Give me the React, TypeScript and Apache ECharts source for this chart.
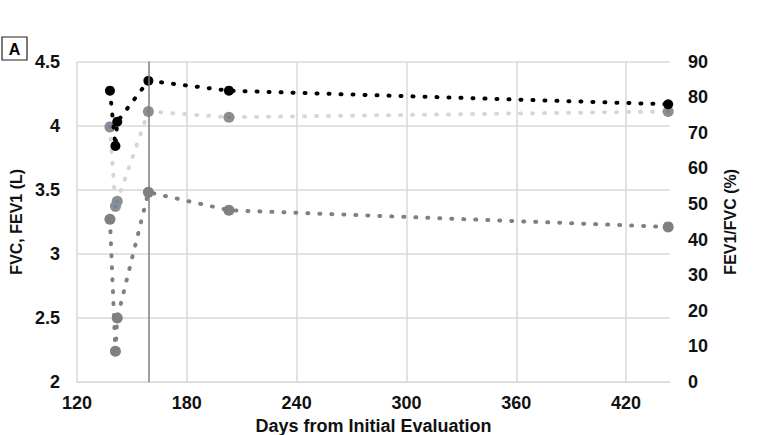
import React, { useEffect, useRef } from "react";
import * as echarts from "echarts";

const days = [138, 141, 142, 159, 203, 443];
const fvc = [3.99, 3.37, 3.41, 4.11, 4.065, 4.11];
const fev1 = [3.27, 2.24, 2.5, 3.48, 3.34, 3.21];
const ratio = [81.8, 66.3, 73.1, 84.6, 81.8, 78.0];
const markerDay = 159;

const FONT = "'Liberation Sans', Arial, sans-serif";

export default function App() {
  const ref = useRef<HTMLDivElement>(null);
  useEffect(() => {
    if (!ref.current) return;
    const chart = echarts.init(ref.current, null, { renderer: "svg" });
    const pair = (ys: number[]) => days.map((d, i) => [d, ys[i]]);
    const dotted = (color: string) => ({
      color,
      width: 4,
      type: [1, 11] as any,
      cap: "round" as any,
    });
    const labelStyle = { color: "#111", fontFamily: FONT, fontWeight: "bold" as any, fontSize: 18 };
    chart.setOption({
      animation: false,
      backgroundColor: "#fff",
      grid: { left: 77, right: 92, top: 61.5, bottom: 53, containLabel: false, outerBoundsMode: "none" },
      graphic: [
        { type: "rect", shape: { x: 2, y: 37, width: 25, height: 23 }, style: { fill: "#fff", stroke: "#222", lineWidth: 1.2 } },
        { type: "text", x: 14.5, y: 49, style: { text: "A", fill: "#000", font: `bold 16px ${FONT}`, align: "center", verticalAlign: "middle" } },
      ],
      xAxis: {
        type: "value",
        min: 120,
        max: 444,
        interval: 60,
        name: "Days from Initial Evaluation",
        nameLocation: "middle",
        nameGap: 27,
        nameTextStyle: { ...labelStyle, fontSize: 18, lineHeight: 18 },
        axisLine: { show: true, lineStyle: { color: "#d9d9d9", width: 1 } },
        axisTick: { show: false },
        axisLabel: { ...labelStyle, margin: 12, showMaxLabel: false },
        splitLine: {
          show: true,
          lineStyle: { color: ["#d9d9d9", "#d9d9d9", "#d9d9d9", "#d9d9d9", "#d9d9d9", "#d9d9d9", "rgba(0,0,0,0)"], width: 1.5 },
        },
      },
      yAxis: [
        {
          type: "value",
          min: 2,
          max: 4.5,
          interval: 0.5,
          name: "FVC, FEV1 (L)",
          nameLocation: "middle",
          nameGap: 45,
          nameTextStyle: { ...labelStyle, fontSize: 16 },
          axisLine: { show: false },
          axisTick: { show: false },
          axisLabel: { ...labelStyle, margin: 17 },
          splitLine: { show: true, lineStyle: { color: "#d9d9d9", width: 1.5 } },
        },
        {
          type: "value",
          min: 0,
          max: 90,
          interval: 10,
          position: "right",
          name: "FEV1/FVC (%)",
          nameLocation: "middle",
          nameGap: 52,
          nameTextStyle: { ...labelStyle, fontSize: 16 },
          axisLine: { show: false },
          axisTick: { show: false },
          axisLabel: { ...labelStyle, margin: 18 },
          splitLine: { show: false },
        },
      ],
      series: [
        {
          name: "FVC",
          type: "line",
          yAxisIndex: 0,
          data: pair(fvc),
          symbol: "circle",
          symbolSize: 11,
          itemStyle: { color: "#8e8e8e" },
          lineStyle: dotted("#d6d6d6"),
          z: 2,
        },
        {
          name: "FVC center",
          type: "scatter",
          yAxisIndex: 0,
          data: pair(fvc),
          symbol: "circle",
          symbolSize: 3,
          itemStyle: { color: "#4f81bd" },
          z: 3,
        },
        {
          name: "FEV1",
          type: "line",
          yAxisIndex: 0,
          data: pair(fev1),
          symbol: "circle",
          symbolSize: 11,
          itemStyle: { color: "#808080" },
          lineStyle: dotted("#808080"),
          z: 3,
        },
        {
          name: "FEV1/FVC",
          type: "line",
          yAxisIndex: 1,
          data: pair(ratio),
          symbol: "circle",
          symbolSize: 10,
          itemStyle: { color: "#000" },
          lineStyle: dotted("#000"),
          z: 4,
          markLine: {
            silent: true,
            symbol: ["none", "none"],
            label: { show: false },
            lineStyle: { color: "#7f7f7f", width: 1.5, type: "solid" },
            data: [{ xAxis: markerDay }],
          },
        },
      ],
    });
    return () => chart.dispose();
  }, []);
  return <div ref={ref} style={{ position: "fixed", left: 0, top: 0, width: 762, height: 435 }} />;
}
